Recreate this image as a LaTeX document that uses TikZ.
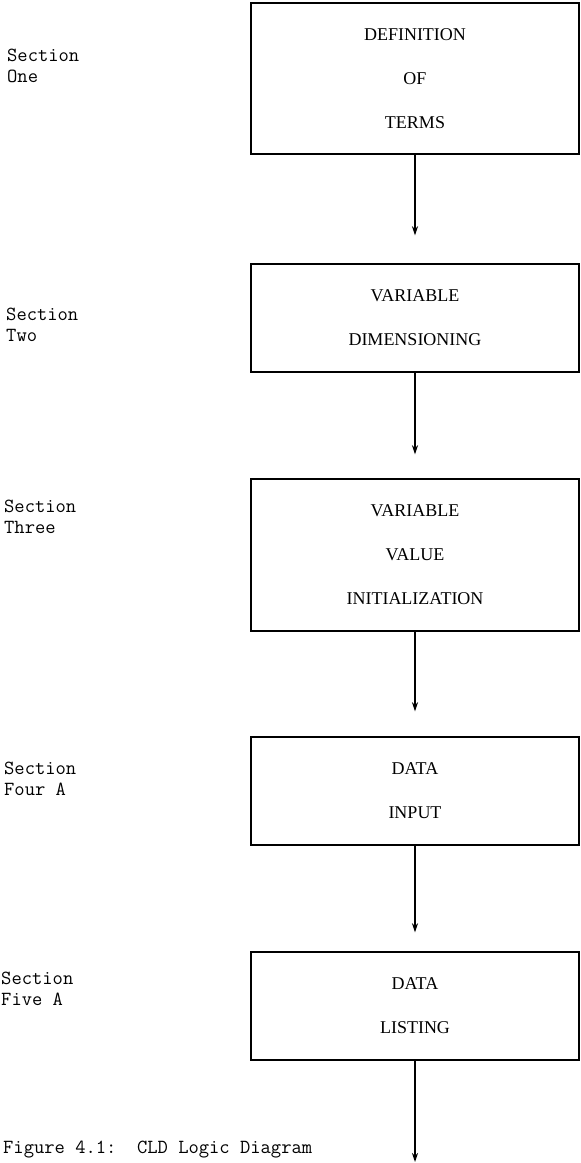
\documentclass[tikz,border=0pt]{standalone}
\usepackage{fontspec}
\setmainfont{Liberation Serif}
\usetikzlibrary{arrows.meta, positioning}
\tikzset{
  secbox/.style={rectangle, draw=black, line width=1.4pt, fill=white,
                 minimum width=328pt, minimum height=#1, align=center,
                 font=\fontsize{18}{44}\selectfont},
  secbox/.default=108pt,
  seclabel/.style={anchor=west, align=left, inner sep=0pt,
                   font=\ttfamily\fontsize{20}{21}\selectfont},
  flow/.style={-{Stealth[length=9pt, width=6pt]}, line width=1.4pt, color=black},
}
\begin{document}
\begin{tikzpicture}[x=1pt, y=-1pt]
      \useasboundingbox (0,0) rectangle (581,1163);
      % boxes
      \node[secbox=151pt] (b1) at (415, 78.5) {DEFINITION\\OF\\TERMS};
      \node[secbox=108pt] (b2) at (415, 318) {VARIABLE\\DIMENSIONING};
      \node[secbox=152pt] (b3) at (415, 555) {VARIABLE\\VALUE\\INITIALIZATION};
      \node[secbox=108pt] (b4) at (415, 791) {DATA\\INPUT};
      \node[secbox=108pt] (b5) at (415, 1006) {DATA\\LISTING};
      \coordinate (out) at (415, 1162);
      % section names
      \node[seclabel] (s1) at (7, 66) {Section\\One};
      \node[seclabel] (s2) at (6, 325) {Section\\Two};
      \node[seclabel] (s3) at (4, 517) {Section\\Three};
      \node[seclabel] (s4) at (4, 779) {Section\\Four A};
      \node[seclabel] (s5) at (1, 989) {Section\\Five A};
      % flow
      \draw[flow, shorten >=28pt] (b1) -- (b2);
      \draw[flow, shorten >=24pt] (b2) -- (b3);
      \draw[flow, shorten >=25pt] (b3) -- (b4);
      \draw[flow, shorten >=19pt] (b4) -- (b5);
      \draw[flow] (b5) -- (out);
      \node[seclabel] (cap) at (3, 1150) {Figure 4.1:\ \ CLD Logic Diagram};
    \end{tikzpicture}
\end{document}
